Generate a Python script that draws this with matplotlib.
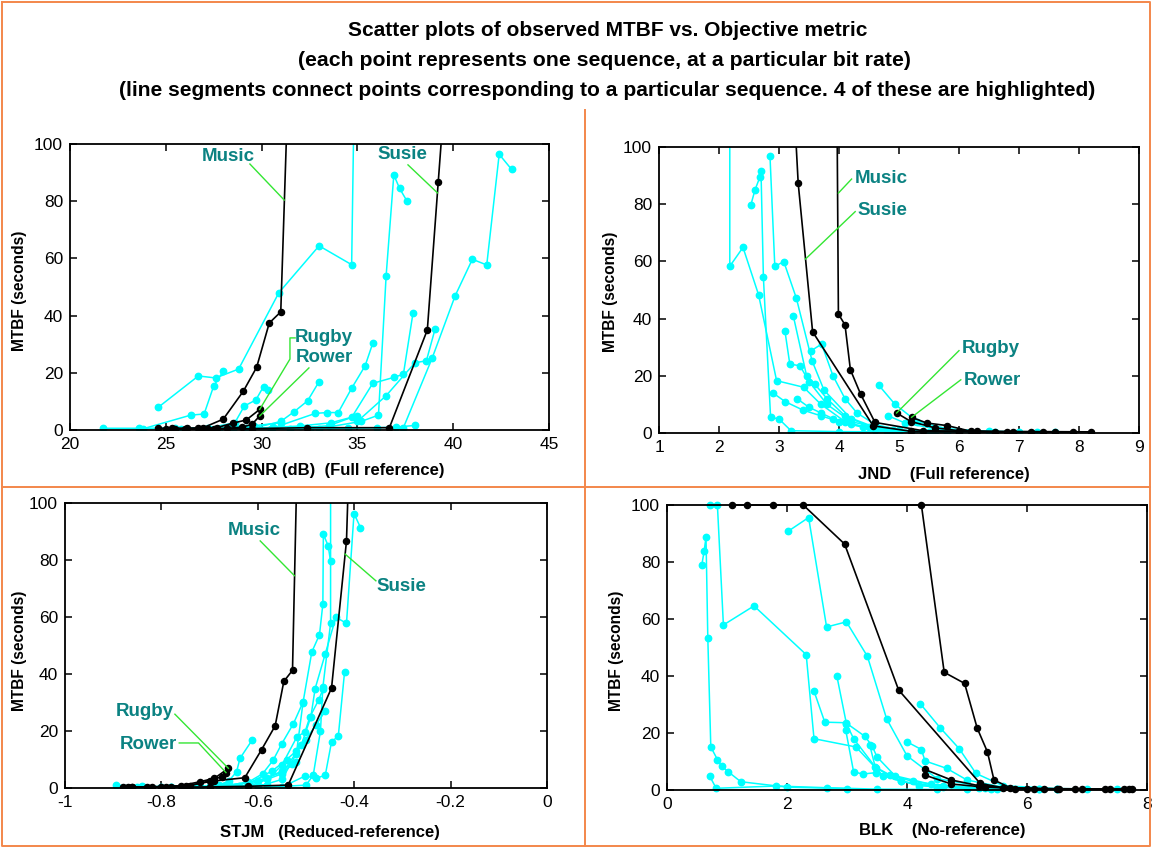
import matplotlib
matplotlib.use("Agg")
import matplotlib.pyplot as plt
from matplotlib import font_manager

# ---------------------------------------------------------------- data
# Panel 1: PSNR (dB) vs MTBF (seconds)
psnr_music_x = [24.6, 25.3, 26.1, 26.95, 28.0, 29.05, 29.74, 30.4, 31.0, 31.3]
psnr_music_y = [0.6, 0.6, 0.6, 0.8, 3.8, 13.6, 21.9, 37.4, 41.3, 103]
psnr_susie_x = [25.0, 27.5, 29.5, 32.35, 36.67, 38.65, 39.22, 39.4]
psnr_susie_y = [0.3, 0.4, 0.5, 0.8, 0.8, 35.0, 86.8, 103]
psnr_rugby_x = [25.5, 26.7, 27.65, 28.5, 29.2, 29.9]
psnr_rugby_y = [0.5, 0.6, 0.8, 2.4, 3.5, 7.2]
psnr_rower_x = [26.0, 27.2, 28.2, 29.0, 29.5, 29.9]
psnr_rower_y = [0.3, 0.4, 0.6, 1.0, 2.0, 4.9]
psnr_other_x = [
    [24.6, 26.7, 27.6, 28.8, 30.9, 33.0, 34.7, 34.8],
    [23.8, 26.3, 27.0, 27.5, 28.0],
    [27.0, 28.6, 29.1, 29.7, 30.1, 30.35],
    [29.5, 31.0, 31.7, 32.4, 33.0],
    [30.5, 32.8, 33.4, 34.0, 34.7, 35.4, 35.8],
    [31.5, 33.5, 34.7, 35.8, 36.9, 37.4, 37.9],
    [33.0, 35.2, 36.1, 36.5, 36.9, 37.2, 37.6],
    [37.4, 38.9, 40.1, 41.0, 41.75, 42.4, 43.05],
    [35.0, 36.5, 38.0, 38.6, 39.05],
    [21.7, 23.6, 25.5, 27.2, 28.4, 29.6, 31.0],
    [25.8, 27.8, 29.2, 30.6, 32.0, 33.6, 35.0],
    [28.5, 30.5, 32.5, 34.5, 36.0, 37.0, 38.0],
]
psnr_other_y = [
    [7.9, 18.9, 18.2, 21.3, 48.0, 64.4, 57.8, 103],
    [0.4, 5.2, 5.6, 15.4, 20.6],
    [0.5, 2.5, 8.4, 10.5, 15.2, 14.0],
    [0.5, 3.0, 6.4, 10.2, 16.9],
    [0.5, 5.8, 6.1, 6.1, 14.6, 22.4, 30.3],
    [0.5, 1.5, 4.4, 16.3, 18.4, 19.5, 40.8],
    [0.5, 3.0, 5.2, 54.0, 89.2, 84.5, 79.9],
    [0.8, 25.1, 46.9, 59.7, 57.7, 96.4, 91.1],
    [3.0, 12.0, 23.5, 24.2, 35.2],
    [0.6, 0.6, 0.7, 0.8, 1.0, 1.5, 2.5],
    [0.3, 0.4, 0.6, 0.9, 1.4, 2.5, 5.0],
    [0.2, 0.3, 0.4, 0.6, 0.8, 1.0, 1.6],
]

# Panel 2: JND vs MTBF
jnd_music_x = [8.2, 7.2, 6.3, 5.4, 4.6, 4.36, 4.19, 4.1, 3.99, 3.97]
jnd_music_y = [0.4, 0.5, 0.6, 0.8, 3.7, 13.6, 22.1, 37.8, 41.6, 103]
jnd_susie_x = [7.6, 6.8, 6.0, 5.2, 4.57, 3.56, 3.32, 3.28]
jnd_susie_y = [0.3, 0.4, 0.5, 0.6, 2.5, 35.4, 87.3, 103]
jnd_rugby_x = [7.4, 6.6, 6.0, 5.6, 5.2, 4.96]
jnd_rugby_y = [0.3, 0.4, 0.8, 1.8, 4.0, 7.0]
jnd_rower_x = [7.9, 6.9, 6.2, 5.8, 5.46, 5.21]
jnd_rower_y = [0.3, 0.4, 0.6, 2.6, 3.5, 5.5]
jnd_other_x = [
    [2.18, 2.18, 2.4, 2.66, 2.96, 3.41, 3.7, 4.1, 4.6, 5.4],
    [2.53, 2.6, 2.68, 2.7, 2.74, 2.86, 3.0, 3.2, 4.0, 5.0, 6.0],
    [2.85, 2.93, 3.08, 3.29, 3.55, 3.75, 4.2, 4.6, 5.2],
    [3.1, 3.18, 3.35, 3.5, 3.8, 4.2, 4.8, 5.5],
    [3.24, 3.46, 3.6, 3.8, 4.1, 4.6, 5.2],
    [3.54, 3.71, 3.9, 4.1, 4.3, 4.6, 5.0, 5.8],
    [4.66, 4.93, 5.3, 5.8, 6.5, 7.3],
    [4.81, 5.1, 5.6, 6.2, 7.0, 7.6],
    [3.3, 3.5, 3.7, 3.9, 4.2, 4.5, 4.9, 5.6, 6.6],
    [2.9, 3.1, 3.4, 3.7, 4.0, 4.4, 4.8],
]
jnd_other_y = [
    [103, 58.3, 64.9, 48.3, 18.3, 16.0, 10, 4, 1, 0.4],
    [79.7, 85.0, 89.4, 91.7, 54.4, 5.5, 4.9, 0.8, 0.5, 0.4, 0.3],
    [96.7, 58.3, 59.9, 47.1, 25.3, 15, 5, 1.5, 0.5],
    [35.5, 24.1, 23.5, 18, 10, 4, 1, 0.3],
    [40.8, 20.0, 17, 12, 6, 2, 0.5],
    [28.8, 31.1, 20, 12, 7, 3, 1, 0.4],
    [16.8, 10.1, 4, 1.5, 0.6, 0.4],
    [6.1, 3.5, 1.5, 0.5, 0.3, 0.3],
    [12, 9, 7, 5, 3, 2, 1, 0.5, 0.3],
    [14, 11, 8, 6, 4, 2, 0.8],
]

# Panel 3: STJM vs MTBF
stjm_music_x = [-0.87, -0.83, -0.80, -0.75, -0.69, -0.627, -0.592, -0.564, -0.546, -0.528, -0.52]
stjm_music_y = [0.3, 0.3, 0.5, 0.8, 2.5, 3.6, 13.5, 21.8, 37.4, 41.3, 103]
stjm_susie_x = [-0.86, -0.78, -0.70, -0.62, -0.537, -0.447, -0.416, -0.413]
stjm_susie_y = [0.2, 0.3, 0.4, 0.6, 1.0, 35.1, 86.7, 103]
stjm_rugby_x = [-0.88, -0.82, -0.76, -0.72, -0.69, -0.661]
stjm_rugby_y = [0.3, 0.4, 0.8, 2.2, 3.4, 6.9]
stjm_rower_x = [-0.86, -0.79, -0.74, -0.70, -0.675, -0.666]
stjm_rower_y = [0.2, 0.4, 0.8, 2.5, 4.0, 5.4]
stjm_other_x = [
    [-0.62, -0.55, -0.51, -0.49, -0.481, -0.46, -0.438, -0.416, -0.4004, -0.387],
    [-0.60, -0.55, -0.52, -0.506, -0.488, -0.472, -0.465, -0.464, -0.454, -0.449],
    [-0.58, -0.50, -0.485, -0.47, -0.465, -0.449, -0.449],
    [-0.55, -0.502, -0.479, -0.46, -0.447, -0.433, -0.42],
    [-0.72, -0.68, -0.66, -0.644, -0.637, -0.611],
    [-0.68, -0.62, -0.59, -0.568, -0.55, -0.526, -0.507],
    [-0.64, -0.58, -0.55, -0.519, -0.502, -0.492, -0.474, -0.464],
    [-0.62, -0.57, -0.54, -0.52, -0.50, -0.48, -0.46],
    [-0.85, -0.78, -0.72, -0.66, -0.60, -0.55, -0.52],
    [-0.80, -0.73, -0.67, -0.62, -0.58, -0.55, -0.53],
    [-0.895, -0.84, -0.78, -0.70, -0.64, -0.58],
]
stjm_other_y = [
    [0.5, 5, 15, 24.9, 34.9, 47.1, 59.9, 57.8, 96.3, 91.4],
    [0.5, 3, 12, 30.2, 47.7, 53.8, 64.6, 89.0, 85.0, 79.5],
    [0.3, 1.0, 4.5, 20, 35.4, 57.8, 103],
    [0.3, 4.2, 3.4, 4.5, 16.2, 18.2, 40.7],
    [0.3, 1.0, 2.5, 5.7, 10.4, 17.0],
    [0.4, 2.0, 5, 9.8, 15.6, 22.6, 29.8],
    [0.4, 3, 8, 17.9, 19.7, 24.9, 30.8, 34.9],
    [1.5, 6, 10, 13, 17, 22, 27],
    [0.2, 0.3, 0.5, 1.0, 2.5, 5.5, 9],
    [0.2, 0.4, 0.8, 1.8, 3.5, 6, 8.5],
    [1.0, 0.6, 0.5, 0.6, 0.8, 1.2],
]

# Panel 4: BLK vs MTBF
blk_music_x = [1.08, 1.34, 1.77, 4.24, 4.62, 4.96, 5.17, 5.34, 5.45, 5.72, 6.28, 6.92, 7.61]
blk_music_y = [100, 100, 100, 100, 41.3, 37.4, 21.7, 13.4, 3.5, 0.8, 0.5, 0.4, 0.3]
blk_susie_x = [2.27, 2.96, 3.86, 5.22, 5.6, 6.11, 6.53, 7.38, 7.7]
blk_susie_y = [100, 86.3, 35.1, 2.3, 0.8, 0.5, 0.4, 0.3, 0.3]
blk_rugby_x = [4.3, 4.74, 5.2, 5.8, 6.5, 7.3]
blk_rugby_y = [7.2, 3.5, 1.5, 0.5, 0.3, 0.2]
blk_rower_x = [4.3, 4.74, 5.3, 6.0, 6.8, 7.75]
blk_rower_y = [5.2, 2.1, 1.0, 0.4, 0.2, 0.2]
blk_other_x = [
    [0.72, 0.84, 0.94, 1.45, 2.32, 2.45, 3.15, 3.6, 4.2, 5.0],
    [0.58, 0.62, 0.65, 0.68, 0.73, 0.84, 0.91, 1.02, 1.23, 2.0, 3.0],
    [0.71, 0.82, 1.82, 2.66, 3.5, 4.5],
    [2.02, 2.36, 2.66, 2.99, 3.34, 3.66, 4.0, 4.5, 5.3, 6.2],
    [2.83, 2.99, 3.11, 3.49, 3.9, 4.6, 5.5],
    [2.45, 2.63, 2.98, 3.3, 3.42, 3.5, 3.8, 4.4, 5.2],
    [2.98, 3.11, 3.26, 3.49, 3.9, 4.5, 5.4],
    [4.22, 4.55, 4.87, 5.15, 5.6, 6.5, 7.5],
    [4.0, 4.24, 4.3, 4.66, 5.0, 5.6, 6.5],
    [3.38, 3.47, 3.72, 4.1, 4.6, 5.3, 6.2, 7.0],
]
blk_other_y = [
    [100, 100, 57.9, 64.6, 47.5, 18.0, 15.1, 5, 1.5, 0.5],
    [78.9, 84.0, 88.7, 53.5, 15.1, 10.7, 8.4, 6.4, 2.9, 1.0, 0.5],
    [4.9, 0.6, 1.4, 0.8, 0.3, 0.2],
    [90.8, 95.6, 57.2, 59.0, 46.9, 25.0, 12, 4, 1, 0.4],
    [40.1, 23.3, 18.0, 7.6, 3, 1, 0.3],
    [34.7, 23.8, 23.6, 18.8, 15.4, 11.6, 5, 2, 0.6],
    [20.9, 6.4, 5.6, 6.1, 3, 1, 0.3],
    [30.3, 21.9, 14.5, 5.8, 1.5, 0.5, 0.3],
    [16.9, 14.2, 10.2, 7.6, 3.5, 1.0, 0.3],
    [15.7, 8.1, 5.2, 3, 1.5, 0.6, 0.3, 0.2],
]

title_lines = [
    "Scatter plots of observed MTBF vs. Objective metric",
    "(each point represents one sequence, at a particular bit rate)",
    "(line segments connect points corresponding to a particular sequence. 4 of these are highlighted)",
]
ylabel_text = "MTBF (seconds)"

# ---------------------------------------------------------------- style
W, H = 1153, 849
CYAN = "#00ffff"
BLACK = "#000000"
TEAL = "#0b8282"
LEADER = "#33e633"
ORANGE = "#f3874b"

avail = {f.name for f in font_manager.fontManager.ttflist}
SANS = "Liberation Sans" if "Liberation Sans" in avail else "DejaVu Sans"
NARROW = "Liberation Sans Narrow" if "Liberation Sans Narrow" in avail else SANS

fig = plt.figure(figsize=(W / 100, H / 100), dpi=100)
fig.patch.set_facecolor("white")
renderer = fig.canvas.get_renderer()


def fx(px):
    return px / W


def fy(py):
    return 1 - py / H


def fit_text(px, py, s, length, size0=12, family=NARROW, rotation=0, **kw):
    """Place text at pixel position and scale its size to a given length."""
    t = fig.text(fx(px), fy(py), s, fontsize=size0, family=family,
                 fontweight="bold", rotation=rotation,
                 ha="center", va="center", **kw)
    bb = t.get_window_extent(renderer)
    cur = bb.height if rotation else bb.width
    t.set_fontsize(size0 * length / cur)
    return t


def axis_text(px, py, s, size=12, rotation=0):
    fig.text(fx(px), fy(py), s, fontsize=size, family=SANS, fontweight="bold",
             rotation=rotation, ha="center", va="center")


def make_axes(l, t, r, b, xlim, xticks, xticklabels):
    ax = fig.add_axes([l / W, 1 - b / H, (r - l) / W, (b - t) / H])
    ax.set_xlim(*xlim)
    ax.set_ylim(0, 100)
    ax.set_xticks(xticks)
    ax.set_xticklabels(xticklabels)
    ax.set_yticks(range(0, 101, 20))
    ax.tick_params(direction="in", top=True, right=True, length=5, width=1.1,
                   labelsize=12.5, pad=5, colors="black")
    for lab in ax.get_xticklabels() + ax.get_yticklabels():
        lab.set_family(SANS)
    for sp in ax.spines.values():
        sp.set_linewidth(1.3)
    return ax


def draw_panel(ax, others_x, others_y, highlighted, clip=True):
    for xs, ys in zip(others_x, others_y):
        ax.plot(xs, ys, "-o", color=CYAN, lw=1.1, ms=4.6, mec=CYAN,
                mfc=CYAN, zorder=2, clip_on=clip)
    for xs, ys in highlighted:
        ax.plot(xs, ys, "-o", color=BLACK, lw=1.2, ms=4.4, mec=BLACK,
                mfc=BLACK, zorder=3, clip_on=clip)


def label(ax, x, y, s, ha="center"):
    ax.text(x, y, s, color=TEAL, fontsize=13.5, fontweight="bold",
            family=SANS, ha=ha, va="center", zorder=6)


def leader(ax, xs, ys):
    ax.plot(xs, ys, color=LEADER, lw=1.0, zorder=5, clip_on=False)


# ---------------------------------------------------------------- panel 1
ax1 = make_axes(70, 144, 549, 430, (20, 45), [20, 25, 30, 35, 40, 45],
                ["20", "25", "30", "35", "40", "45"])
draw_panel(ax1, psnr_other_x, psnr_other_y,
           [(psnr_susie_x, psnr_susie_y), (psnr_rower_x, psnr_rower_y),
            (psnr_rugby_x, psnr_rugby_y), (psnr_music_x, psnr_music_y)])
label(ax1, 28.25, 95.8, "Music")
leader(ax1, [29.39, 31.18], [93.0, 80.4])
label(ax1, 37.33, 96.2, "Susie")
leader(ax1, [37.64, 39.18], [92.7, 82.9])
label(ax1, 31.75, 32.5, "Rugby", ha="left")
label(ax1, 31.8, 25.2, "Rower", ha="left")
leader(ax1, [31.75, 31.48, 31.48, psnr_rugby_x[-1]],
       [32.2, 32.2, 24.8, psnr_rugby_y[-1]])
leader(ax1, [32.47, psnr_rower_x[-1]], [21.7, psnr_rower_y[-1]])

# ---------------------------------------------------------------- panel 2
ax2 = make_axes(659, 147, 1139, 433, (1, 9), range(1, 10),
                [str(v) for v in range(1, 10)])
draw_panel(ax2, jnd_other_x, jnd_other_y,
           [(jnd_susie_x, jnd_susie_y), (jnd_rower_x, jnd_rower_y),
            (jnd_rugby_x, jnd_rugby_y), (jnd_music_x, jnd_music_y)])
label(ax2, 4.26, 89.0, "Music", ha="left")
leader(ax2, [4.21, 3.99], [88.8, 83.9])
label(ax2, 4.31, 77.7, "Susie", ha="left")
leader(ax2, [4.27, 3.44], [77.4, 60.8])
label(ax2, 6.04, 29.4, "Rugby", ha="left")
leader(ax2, [6.0, jnd_rugby_x[-1]], [28.8, jnd_rugby_y[-1]])
label(ax2, 6.08, 18.3, "Rower", ha="left")
leader(ax2, [6.03, jnd_rower_x[-1]], [18.6, jnd_rower_y[-1]])

# ---------------------------------------------------------------- panel 3
ax3 = make_axes(65, 503, 547, 788, (-1, 0),
                [-1, -0.8, -0.6, -0.4, -0.2, 0],
                ["-1", "-0.8", "-0.6", "-0.4", "-0.2", "0"])
draw_panel(ax3, stjm_other_x, stjm_other_y,
           [(stjm_susie_x, stjm_susie_y), (stjm_rower_x, stjm_rower_y),
            (stjm_rugby_x, stjm_rugby_y), (stjm_music_x, stjm_music_y)])
label(ax3, -0.607, 90.2, "Music")
leader(ax3, [-0.595, -0.524], [86.7, 74.5])
label(ax3, -0.303, 70.6, "Susie")
leader(ax3, [-0.355, -0.419], [72.7, 82.1])
label(ax3, -0.834, 26.7, "Rugby")
leader(ax3, [-0.772, stjm_rugby_x[-1]], [25.9, stjm_rugby_y[-1]])
label(ax3, -0.828, 15.4, "Rower")
leader(ax3, [-0.763, -0.723, stjm_rower_x[-1]], [15.8, 15.8, stjm_rower_y[-1]])

# ---------------------------------------------------------------- panel 4
ax4 = make_axes(667, 505, 1147, 790, (0, 8), [0, 2, 4, 6, 8],
                ["0", "2", "4", "6", "8"])
draw_panel(ax4, blk_other_x, blk_other_y,
           [(blk_susie_x, blk_susie_y), (blk_rower_x, blk_rower_y),
            (blk_rugby_x, blk_rugby_y), (blk_music_x, blk_music_y)],
           clip=False)

# ---------------------------------------------------------------- texts
fit_text(608, 31, title_lines[0], 518, size0=14)
fit_text(604, 61, title_lines[1], 612, size0=14)
fit_text(607, 90, title_lines[2], 978, size0=14)

axis_text(338, 470, "PSNR (dB)  (Full reference)")
axis_text(944, 474, "JND    (Full reference)")
axis_text(330, 832, "STJM   (Reduced-reference)")
axis_text(942, 830, "BLK    (No-reference)")

for px, py in [(20, 291), (611, 292), (20, 651), (617, 651)]:
    axis_text(px, py, ylabel_text, size=11.2, rotation=90)

# ---------------------------------------------------------------- frame
def frame_line(xs, ys):
    fig.add_artist(plt.Line2D([fx(v) for v in xs], [fy(v) for v in ys],
                              color=ORANGE, lw=1.4, transform=fig.transFigure))

frame_line([2, 1150, 1150, 2, 2], [1.5, 1.5, 846, 846, 1.5])
frame_line([585, 585], [110, 846])
frame_line([2, 1150], [487, 487])

fig.savefig("out.png", dpi=100, facecolor="white")
